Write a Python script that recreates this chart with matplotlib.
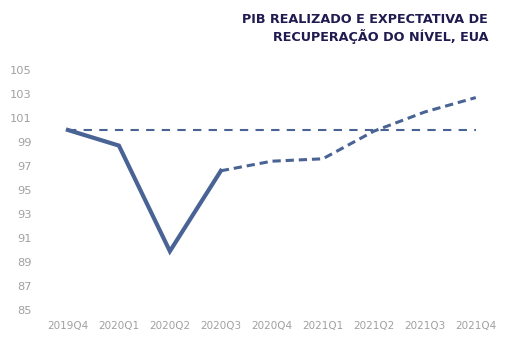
import matplotlib.pyplot as plt
import numpy as np

# Quarterly GDP index (2019Q4 = 100): realised and expected recovery path.
quarters = ["2019Q4", "2020Q1", "2020Q2", "2020Q3", "2020Q4",
            "2021Q1", "2021Q2", "2021Q3", "2021Q4"]
realizado = [100.0, 98.7, 89.9, 96.6]
expectativa = [96.6, 97.4, 97.6, 99.9, 101.5, 102.7]
nivel_pre_crise = [100.0] * len(quarters)
y_ticks = [85, 87, 89, 91, 93, 95, 97, 99, 101, 103, 105]

line_color = "#4a6395"
tick_color = "#a0a0a0"
title_color = "#1f1a4f"

fig = plt.figure(figsize=(5.11, 3.48), dpi=100)
ax = fig.add_axes([0.083, 0.109, 0.898, 0.690])

x = np.arange(len(quarters))

# Pre-crisis level reference.
ax.plot(x, nivel_pre_crise, color=line_color, linewidth=1.5,
        linestyle=(0, (4, 3.5)), solid_capstyle="butt")
# Realised path (solid) and projected path (dashed).
ax.plot(x[:len(realizado)], realizado, color=line_color, linewidth=3.0,
        solid_joinstyle="miter")
ax.plot(x[len(realizado) - 1:], expectativa, color=line_color, linewidth=2.2,
        linestyle=(0, (2.7, 1.6)))

ax.set_xlim(-0.5, len(quarters) - 0.5)
ax.set_ylim(85, 105)
ax.set_yticks(y_ticks)
ax.set_xticks(x)
ax.set_xticklabels(quarters)
ax.tick_params(axis="x", length=0, labelsize=7.5, colors=tick_color, pad=8)
ax.tick_params(axis="y", length=0, labelsize=8.2, colors=tick_color, pad=8)
for spine in ax.spines.values():
    spine.set_visible(False)

fig.text(0.955, 0.917, "PIB REALIZADO E EXPECTATIVA DE\nRECUPERAÇÃO DO NÍVEL, EUA",
         ha="right", va="center", fontsize=9.2, fontweight="bold",
         color=title_color, linespacing=1.25)

plt.savefig("out.png", dpi=100)
